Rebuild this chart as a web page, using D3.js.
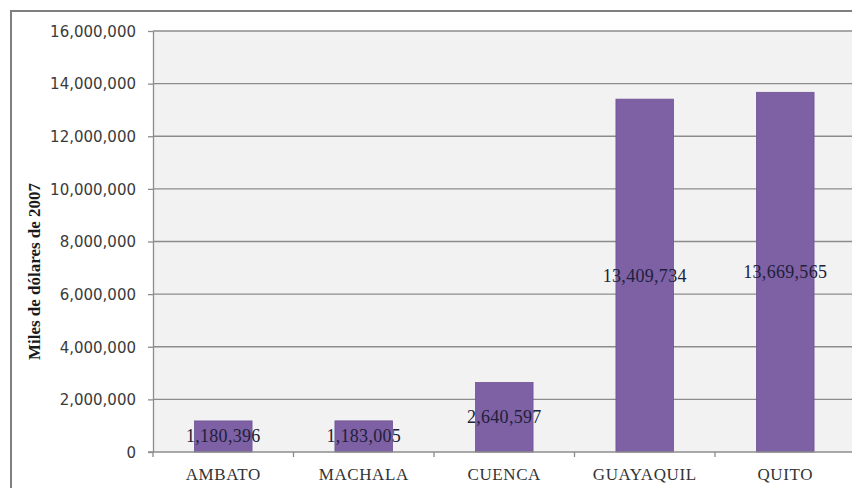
<!DOCTYPE html>
<html><head><meta charset="utf-8">
<script src="https://cdn.jsdelivr.net/npm/d3@7"></script>
<style>html,body{margin:0;padding:0;background:#fff;}svg{display:block;}</style>
</head><body>
<svg id="chart" width="852" height="488"></svg>
<script>
const categories = ["AMBATO", "MACHALA", "CUENCA", "GUAYAQUIL", "QUITO"];
const values = [1180396, 1183005, 2640597, 13409734, 13669565];
const valueLabels = ["1,180,396", "1,183,005", "2,640,597", "13,409,734", "13,669,565"];
const yTicks = [0, 2000000, 4000000, 6000000, 8000000, 10000000, 12000000, 14000000, 16000000];
const yTitle = "Miles de dólares de 2007";

(function () {
const svg = d3.select("#chart");
const pL = 153, pR = 855.5, pT = 31, pB = 452;

svg.append("rect").attr("x", 0).attr("y", 0).attr("width", 852).attr("height", 488).attr("fill", "#fff");
// outer chart border
svg.append("rect").attr("x", 11).attr("y", 11).attr("width", 860).attr("height", 490)
  .attr("fill", "#fff").attr("stroke", "#7f7f7f").attr("stroke-width", 2);
// plot area
svg.append("rect").attr("x", pL).attr("y", pT).attr("width", 852 - pL).attr("height", pB - pT)
  .attr("fill", "#f2f2f2");

const x = d3.scaleBand().domain(categories).range([pL, pR]).paddingInner(0.59).paddingOuter(0.295);
const y = d3.scaleLinear().domain([0, 16000000]).range([pB, pT]);

// gridlines
svg.append("g").selectAll("line").data(yTicks.filter(d => d > 0)).join("line")
  .attr("x1", pL).attr("x2", 852).attr("y1", d => y(d)).attr("y2", d => y(d))
  .attr("stroke", "#8c8c8c").attr("stroke-width", 1.3);

// y axis
const yAxis = svg.append("g").attr("transform", `translate(${pL},0)`)
  .call(d3.axisLeft(y).tickValues(yTicks).tickSize(5).tickSizeOuter(0).tickPadding(12)
    .tickFormat(d3.format(",")));
yAxis.select(".domain").attr("stroke", "#8c8c8c").attr("stroke-width", 1.3);
yAxis.selectAll(".tick line").attr("stroke", "#8c8c8c").attr("stroke-width", 1.3);
yAxis.selectAll(".tick text").attr("font-family", "DejaVu Sans, Verdana, sans-serif")
  .attr("font-size", 15).attr("fill", "#3a3a3a").attr("dy", "0.35em");

// bars
svg.append("g").selectAll("rect").data(values).join("rect")
  .attr("x", (d, i) => x(categories[i]))
  .attr("y", d => y(d))
  .attr("width", x.bandwidth())
  .attr("height", d => y(0) - y(d))
  .attr("fill", "#7e60a4")
  .attr("stroke", "#6f5394").attr("stroke-width", 0.8);

// x axis
const boundaries = d3.range(categories.length + 1).map(i => pL + i * x.step());
svg.append("line").attr("x1", pL - 5).attr("x2", 852).attr("y1", pB).attr("y2", pB)
  .attr("stroke", "#8c8c8c").attr("stroke-width", 1.3);
svg.append("g").selectAll("line").data(boundaries).join("line")
  .attr("x1", d => d).attr("x2", d => d).attr("y1", pB).attr("y2", pB + 5)
  .attr("stroke", "#8c8c8c").attr("stroke-width", 1.3);

svg.append("g").selectAll("text").data(categories).join("text")
  .attr("x", d => x(d) + x.bandwidth() / 2)
  .attr("y", 480)
  .attr("text-anchor", "middle")
  .attr("font-family", "Liberation Serif, Times New Roman, serif")
  .attr("font-size", 17).attr("letter-spacing", 0.6).attr("fill", "#333")
  .text(d => d);

// value labels
svg.append("g").selectAll("text").data(values).join("text")
  .attr("x", (d, i) => x(categories[i]) + x.bandwidth() / 2)
  .attr("y", d => (y(d) + y(0)) / 2 + 6)
  .attr("text-anchor", "middle")
  .attr("font-family", "Liberation Serif, Times New Roman, serif")
  .attr("font-size", 18).attr("letter-spacing", 0.3).attr("fill", "#20203a")
  .text((d, i) => valueLabels[i]);

// y title
svg.append("text")
  .attr("transform", `translate(40,${(pT + pB) / 2 + 30}) rotate(-90)`)
  .attr("text-anchor", "middle")
  .attr("font-family", "Liberation Serif, Times New Roman, serif")
  .attr("font-weight", "bold").attr("font-size", 17).attr("fill", "#1a1a1a")
  .text(yTitle);
})();
</script>
</body></html>
